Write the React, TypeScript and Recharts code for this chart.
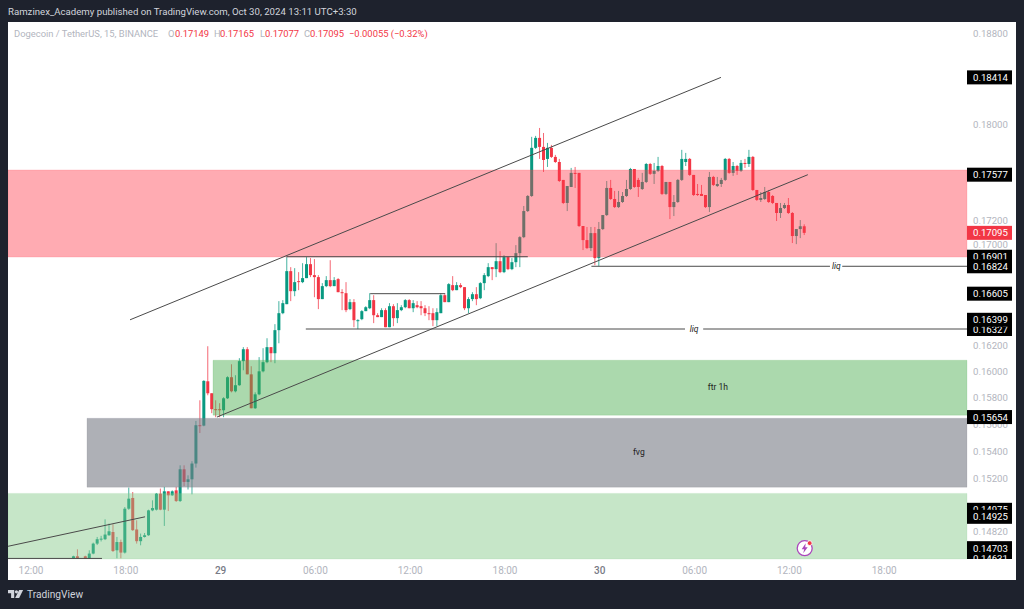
import React from "react";
import { ComposedChart, Bar, XAxis, YAxis, ReferenceArea, ReferenceLine, ReferenceDot } from "recharts";

const FIRST_BAR = 11;
const opens = [
.14632,.14646,.14620,.14646,.14632,.14665,.14735,.14766,.14766,.14794,
.14817,.14688,.14746,.14672,.14983,.15060,.14835,.14752,.14782,.14794,
.14971,.14976,.15091,.14976,.15108,.15079,.15115,.15038,.15268,.15176,
.15195,.15310,.15593,.15590,.15924,.15833,.15713,.15713,.15705,.15795,
.15955,.15848,.15894,.16078,.16170,.15977,.15720,.15825,.16000,.16070,
.16186,.16139,.16318,.16451,.16522,.16785,.16625,.16705,.16697,.16729,
.16841,.16753,.16737,.16562,.16665,.16713,.16665,.16721,.16617,.16609,
.16483,.16538,.16396,.16404,.16467,.16490,.16554,.16435,.16420,.16475,
.16341,.16506,.16412,.16475,.16498,.16554,.16490,.16514,.16506,.16490,
.16451,.16451,.16396,.16451,.16593,.16538,.16673,.16633,.16673,.16657,
.16490,.16562,.16601,.16569,.16689,.16745,.16817,.16801,.16865,.16777,
.16898,.16801,.16857,.16930,.17060,.17274,.17399,.17804,.17889,.17812,
.17710,.17804,.17727,.17684,.17533,.17341,.17474,.17592,.17592,.17151,
.17036,.16971,.17093,.16890,.17126,.17241,.17466,.17374,.17307,.17349,
.17399,.17457,.17625,.17533,.17457,.17516,.17667,.17584,.17609,.17650,
.17416,.17516,.17307,.17349,.17533,.17684,.17710,.17575,.17416,.17416,
.17407,.17307,.17558,.17482,.17499,.17533,.17710,.17592,.17650,.17609,
.17676,.17667,.17727,.17449,.17366,.17374,.17432,.17399,.17341,.17258,
.17299,.17324,.17258,.17069,.17126,.17149];
const highs = [
.14650,.14695,.14625,.14650,.14688,.14742,.14782,.14790,.14907,.14877,
.14872,.14782,.14763,.14995,.15135,.15103,.14900,.14806,.14810,.14976,
.15043,.15096,.15128,.15140,.15108,.15115,.15140,.15297,.15297,.15224,
.15327,.15625,.15780,.15932,.16193,.15833,.15780,.15758,.15803,.15962,
.16054,.15970,.16101,.16186,.16186,.16039,.15840,.16109,.16178,.16255,
.16186,.16365,.16546,.16554,.16906,.16817,.16809,.16777,.16849,.16898,
.16890,.16882,.16753,.16689,.16745,.16873,.16737,.16729,.16641,.16697,
.16562,.16562,.16404,.16475,.16506,.16609,.16593,.16451,.16490,.16490,
.16530,.16522,.16530,.16514,.16562,.16562,.16554,.16546,.16546,.16514,
.16506,.16490,.16490,.16609,.16601,.16689,.16745,.16697,.16689,.16657,
.16577,.16617,.16657,.16697,.16769,.16849,.16817,.17011,.16946,.16914,
.16898,.16890,.16995,.17068,.17316,.17407,.17898,.17906,.17974,.17931,
.17846,.17829,.17744,.17710,.17533,.17482,.17634,.17642,.17592,.17151,
.17143,.17143,.17143,.17184,.17241,.17524,.17533,.17441,.17441,.17432,
.17533,.17634,.17625,.17550,.17592,.17676,.17676,.17676,.17727,.17659,
.17516,.17516,.17407,.17541,.17787,.17761,.17718,.17575,.17499,.17491,
.17407,.17600,.17567,.17558,.17550,.17718,.17718,.17684,.17659,.17701,
.17710,.17787,.17735,.17449,.17432,.17474,.17449,.17407,.17341,.17341,
.17341,.17382,.17266,.17126,.17200,.17165];
const lows = [
.14620,.14620,.14590,.14600,.14620,.14660,.14725,.14750,.14760,.14790,
.14676,.14632,.14632,.14665,.14975,.14825,.14735,.14723,.14778,.14790,
.14965,.14970,.14972,.14860,.14966,.15075,.15031,.15031,.15145,.15121,
.15086,.15280,.15535,.15585,.15818,.15683,.15653,.15653,.15653,.15790,
.15840,.15840,.15890,.16008,.15977,.15720,.15715,.15818,.15992,.16062,
.16070,.16062,.16216,.16443,.16522,.16546,.16585,.16633,.16689,.16729,
.16737,.16577,.16483,.16562,.16657,.16657,.16665,.16617,.16475,.16459,
.16475,.16341,.16326,.16396,.16467,.16483,.16373,.16420,.16420,.16341,
.16341,.16349,.16373,.16467,.16490,.16490,.16459,.16490,.16435,.16428,
.16396,.16349,.16349,.16451,.16538,.16538,.16625,.16633,.16649,.16475,
.16451,.16546,.16514,.16562,.16633,.16737,.16713,.16737,.16769,.16769,
.16793,.16793,.16817,.16817,.17052,.17266,.17391,.17795,.17710,.17600,
.17642,.17718,.17676,.17516,.17332,.17274,.17474,.17466,.17143,.16955,
.16963,.16947,.16833,.16825,.17118,.17233,.17366,.17299,.17299,.17341,
.17391,.17449,.17466,.17391,.17449,.17507,.17575,.17499,.17600,.17407,
.17407,.17208,.17233,.17341,.17524,.17650,.17567,.17399,.17399,.17399,
.17299,.17266,.17482,.17474,.17474,.17524,.17584,.17567,.17575,.17600,
.17634,.17642,.17441,.17358,.17349,.17366,.17341,.17332,.17192,.17217,
.17291,.17250,.17012,.17003,.17052,.17077];
const closes = [
.14646,.14632,.14600,.14620,.14665,.14735,.14766,.14770,.14799,.14822,
.14683,.14746,.14672,.14983,.15055,.14830,.14752,.14782,.14794,.14971,
.14988,.15091,.14976,.15108,.15079,.15108,.15038,.15268,.15176,.15195,
.15310,.15593,.15590,.15927,.15833,.15713,.15710,.15705,.15795,.15955,
.15848,.15894,.16078,.16170,.15977,.15720,.15825,.16000,.16070,.16186,
.16139,.16318,.16451,.16530,.16785,.16625,.16697,.16697,.16729,.16841,
.16753,.16737,.16562,.16665,.16713,.16665,.16713,.16617,.16609,.16475,
.16538,.16396,.16396,.16467,.16498,.16554,.16435,.16420,.16475,.16341,
.16506,.16412,.16475,.16498,.16554,.16490,.16530,.16498,.16490,.16451,
.16443,.16396,.16459,.16593,.16538,.16681,.16633,.16673,.16657,.16490,
.16562,.16601,.16562,.16689,.16753,.16817,.16801,.16865,.16777,.16898,
.16801,.16857,.16930,.17060,.17274,.17399,.17804,.17889,.17812,.17701,
.17804,.17727,.17684,.17524,.17341,.17482,.17592,.17584,.17151,.17036,
.16971,.17093,.16890,.17126,.17241,.17466,.17374,.17307,.17349,.17399,
.17457,.17625,.17474,.17474,.17516,.17667,.17584,.17609,.17650,.17416,
.17516,.17307,.17349,.17533,.17710,.17710,.17575,.17407,.17407,.17399,
.17307,.17558,.17491,.17499,.17533,.17710,.17592,.17650,.17609,.17676,
.17667,.17727,.17449,.17366,.17382,.17432,.17349,.17341,.17258,.17299,
.17324,.17258,.17069,.17126,.17149,.17095];

const priceTicks = [0.188, 0.18, 0.172, 0.17, 0.162, 0.16, 0.158, 0.156, 0.154, 0.152, 0.1482];
const timeTicks = [0, 24, 48, 72, 96, 120, 144, 168, 192, 216];
const timeLabels = ["12:00", "18:00", "29", "06:00", "12:00", "18:00", "30", "06:00", "12:00", "18:00"];
const priceTags = [
  { value: 0.18414 }, { value: 0.17577 }, { value: 0.17095, red: true }, { value: 0.16901 }, { value: 0.16824 },
  { value: 0.16605 }, { value: 0.16327 }, { value: 0.16399 }, { value: 0.15654 }, { value: 0.14975 },
  { value: 0.14925 }, { value: 0.14631 }, { value: 0.14703 },
];
const legendParts = [
  { left: 6, text: "Dogecoin / TetherUS, 15, BINANCE", color: "#B2B5BE" },
  { left: 160, text: "O", color: "#B2B5BE" },
  { left: 167, text: "0.17149", color: "#F23645" },
  { left: 206, text: "H", color: "#B2B5BE" },
  { left: 212, text: "0.17165", color: "#F23645" },
  { left: 252, text: "L", color: "#B2B5BE" },
  { left: 257, text: "0.17077", color: "#F23645" },
  { left: 296, text: "C", color: "#B2B5BE" },
  { left: 302, text: "0.17095", color: "#F23645" },
  { left: 341, text: "−0.00055 (−0.32%)", color: "#F23645" },
];
const X_MIN = -5.696;
const X_MAX = 237.09;
const Y_MIN = 0.14627;
const Y_MAX = 0.18908;
const zones = [
  { x1: X_MIN, x2: X_MAX, y1: 0.16898, y2: 0.17617, fill: "#FF3648", stroke: "#FF3648", opacity: 0.42 },
  { x1: 46.2, x2: X_MAX, y1: 0.15668, y2: 0.16085, fill: "#4CAF50", stroke: "#4CAF50", opacity: 0.47 },
  { x1: 14.3, x2: X_MAX, y1: 0.15138, y2: 0.15645, fill: "#787B86", stroke: "#787B86", opacity: 0.6 },
  { x1: X_MIN, x2: X_MAX, y1: 0.14627, y2: 0.15093, fill: "#81C784", stroke: "#81C784", opacity: 0.45 },
];
const trendLines = [
  { x1: 25.2, y1: 0.16399, x2: 174.8, y2: 0.18414 },
  { x1: 47.2, y1: 0.15654, x2: 196.8, y2: 0.17577 },
  { x1: X_MIN, y1: 0.14716, x2: 29, y2: 0.14925 },
  { x1: 64.9, y1: 0.16901, x2: 125.9, y2: 0.16901 },
  { x1: 86, y1: 0.16605, x2: 105, y2: 0.16605 },
  { x1: 69.7, y1: 0.16327, x2: 165.7, y2: 0.16327 },
  { x1: 170.3, y1: 0.16327, x2: X_MAX, y2: 0.16327 },
  { x1: 142, y1: 0.16824, x2: 202.4, y2: 0.16824 },
  { x1: 205.5, y1: 0.16824, x2: X_MAX, y2: 0.16824 },
  { x1: X_MIN, y1: 0.14631, x2: 18.1, y2: 0.14631 },
];
const notes = [
  { x: 168, y: 0.16327, text: "liq", italic: true },
  { x: 204, y: 0.16824, text: "liq", italic: true },
  { x: 174, y: 0.1588, text: "ftr 1h", italic: false },
  { x: 154, y: 0.15395, text: "fvg", italic: false },
];

const rows = opens.map((open, i) => ({
  bar: FIRST_BAR + i,
  open,
  high: highs[i],
  low: lows[i],
  close: closes[i],
}));

const UP = "#089981";
const DOWN = "#F23645";
const FONT = "Roboto, 'Noto Sans', sans-serif";

function Candle(props: any) {
  const { x, y, width, height, payload } = props;
  const { open, high, low, close } = payload;
  const color = close >= open ? UP : DOWN;
  const span = Math.log(high / low) || 1;
  const yOf = (v: number) => y + (height * Math.log(high / v)) / span;
  const top = yOf(Math.max(open, close));
  const bottom = yOf(Math.min(open, close));
  const cx = x + width / 2;
  return (
    <g>
      <line x1={cx} x2={cx} y1={y} y2={y + height} stroke={color} strokeOpacity={0.75} strokeWidth={1} />
      <rect x={x} y={top} width={width} height={Math.max(bottom - top, 1)} fill={color} />
    </g>
  );
}

function PriceTag(props: any) {
  const { viewBox, value, red } = props;
  const right = viewBox.x + viewBox.width;
  return (
    <g>
      <rect x={right} y={viewBox.y - 7} width={45} height={14} fill={red ? DOWN : "#000"} />
      <text x={right + 6} y={viewBox.y + 3.5} fontSize={9.6} fontFamily={FONT} fill="#fff">
        {value.toFixed(5)}
      </text>
    </g>
  );
}

function PriceTick(props: any) {
  const { x, y, payload } = props;
  return (
    <text x={x} y={y + 3.5} fontSize={9.6} fontFamily={FONT} fill="#B2B5BE">
      {payload.value.toFixed(5)}
    </text>
  );
}

function TimeTick(props: any) {
  const { x, y, payload, index } = props;
  const label = timeLabels[index] ?? "";
  const isDay = !label.includes(":");
  return (
    <text x={x + 0.5} y={y + 7} textAnchor="middle" fontSize={10} fontFamily={FONT} fontWeight={isDay ? 500 : 400} fill={isDay ? "#787B86" : "#B2B5BE"}>
      {label}
    </text>
  );
}

function Note(props: any) {
  const { viewBox, text, italic } = props;
  return (
    <text x={viewBox.x + (viewBox.width || 0) / 2} y={viewBox.y + 3} textAnchor="middle" fontSize={8.5} fontFamily={FONT} fontStyle={italic ? "italic" : "normal"} fill="#222">
      {text}
    </text>
  );
}

function FlashIcon(props: any) {
  const { cx, cy } = props;
  return (
    <g>
      <circle cx={cx} cy={cy} r={7.5} fill="#fff" stroke="#AB47BC" strokeWidth={1.3} />
      <path d={`M${cx + 1} ${cy - 5} L${cx - 3} ${cy + 1} L${cx - 0.5} ${cy + 1} L${cx - 1.5} ${cy + 5} L${cx + 3} ${cy - 1} L${cx + 0.5} ${cy - 1} Z`} fill="#AB47BC" />
      <circle cx={cx + 5} cy={cy - 5} r={2.4} fill="#F23645" stroke="#fff" strokeWidth={0.8} />
    </g>
  );
}

export default function App() {
  return (
    <div style={{ position: "absolute", left: 0, top: 0, width: 1024, height: 609, background: "#1E222D", overflow: "hidden", fontFamily: FONT }}>
      <div style={{ position: "absolute", left: 8, top: 6, fontSize: 9.65, color: "#D1D4DC", whiteSpace: "nowrap" }}>
        Ramzinex_Academy published on TradingView.com, Oct 30, 2024 13:11 UTC+3:30
      </div>
      <div style={{ position: "absolute", left: 8, top: 22, width: 1008, height: 558, background: "#fff" }}>
        <ComposedChart
          width={1008}
          height={558}
          data={rows}
          margin={{ top: 0, right: 0, bottom: 0, left: 0 }}
        >
          <XAxis
            dataKey="bar"
            type="number"
            domain={[X_MIN, X_MAX]}
            ticks={timeTicks}
            interval={0}
            height={21}
            axisLine={false}
            tickLine={false}
            tick={<TimeTick />}
            allowDataOverflow
          />
          <YAxis
            orientation="right"
            scale="log"
            domain={[Y_MIN, Y_MAX]}
            ticks={priceTicks}
            interval={0}
            width={49}
            axisLine={false}
            tickLine={false}
            tick={<PriceTick />}
            tickMargin={0}
            allowDataOverflow
          />
          <Bar dataKey={(d: any) => [d.low, d.high]} barSize={3} shape={<Candle />} isAnimationActive={false} />
          {zones.map((z, i) => (
            <ReferenceArea key={i} zIndex={350} x1={z.x1} x2={z.x2} y1={z.y1} y2={z.y2} fill={z.fill} fillOpacity={z.opacity} stroke={z.stroke} strokeOpacity={0.15} ifOverflow="visible" />
          ))}
          {trendLines.map((t, i) => (
            <ReferenceLine key={i} zIndex={400} segment={[{ x: t.x1, y: t.y1 }, { x: t.x2, y: t.y2 }]} stroke="#4A4A4A" strokeWidth={1} ifOverflow="visible" />
          ))}
          {notes.map((n, i) => (
            <ReferenceDot key={i} zIndex={450} x={n.x} y={n.y} r={0} stroke="none" fill="none" ifOverflow="visible" label={<Note text={n.text} italic={n.italic} />} />
          ))}
          <ReferenceDot zIndex={450} x={196} y={0.14703} r={8} ifOverflow="visible" shape={<FlashIcon />} />
          {priceTags.map((t, i) => (
            <ReferenceLine key={i} zIndex={2000} y={t.value} stroke="none" ifOverflow="visible" label={<PriceTag value={t.value} red={t.red} />} />
          ))}
        </ComposedChart>
        <div style={{ position: "absolute", left: 959, top: 537, width: 49, height: 21, background: "#fff" }} />
        {legendParts.map((p, i) => (
          <div key={i} style={{ position: "absolute", left: p.left, top: 6, fontSize: 9.4, whiteSpace: "nowrap", color: p.color }}>
            {p.text}
          </div>
        ))}
      </div>
      <svg style={{ position: "absolute", left: 8, top: 589 }} width={16} height={11} viewBox="0 0 18 12">
        <path d="M0 1 H7 V10 H3.5 V4.5 H0 Z" fill="#D1D4DC" />
        <circle cx={9.5} cy={3} r={1.8} fill="#D1D4DC" />
        <path d="M12.5 1 H17 L12.5 10 H8 Z" fill="#D1D4DC" />
      </svg>
      <div style={{ position: "absolute", left: 27, top: 589, fontSize: 10.2, color: "#D1D4DC" }}>TradingView</div>
    </div>
  );
}
